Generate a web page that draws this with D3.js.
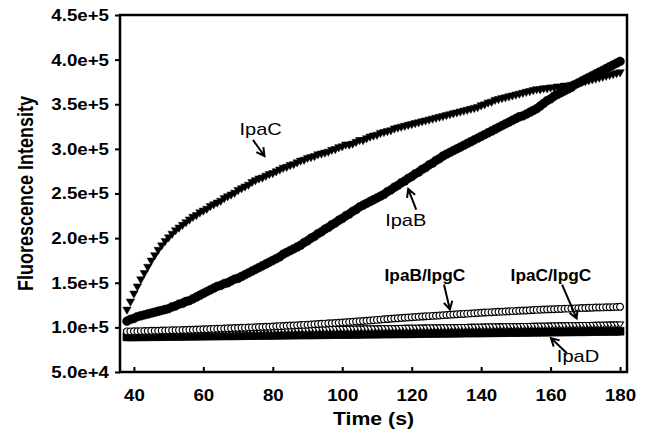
<html>
<head>
	<script src="https://d3js.org/d3.v7.min.js"></script>
	<style>
		body { margin: 0; background: #fff; }
		text { font-family: "Liberation Sans", Arial, sans-serif; fill: #000; }
	</style>
</head>
<body>
<svg width="648" height="445"></svg>
<script>
// time points (s), one reading per second
const times = [38,39,
	40,41,42,43,44,45,46,47,48,49,
	50,51,52,53,54,55,56,57,58,59,
	60,61,62,63,64,65,66,67,68,69,
	70,71,72,73,74,75,76,77,78,79,
	80,81,82,83,84,85,86,87,88,89,
	90,91,92,93,94,95,96,97,98,99,
	100,101,102,103,104,105,106,107,108,109,
	110,111,112,113,114,115,116,117,118,119,
	120,121,122,123,124,125,126,127,128,129,
	130,131,132,133,134,135,136,137,138,139,
	140,141,142,143,144,145,146,147,148,149,
	150,151,152,153,154,155,156,157,158,159,
	160,161,162,163,164,165,166,167,168,169,
	170,171,172,173,174,175,176,177,178,179,
	180];

// fluorescence, in thousands
const ipaC = [120,129,
	138,146,154,161,168,175,181,187,192,197,
	201,205,209,212,215,218,221,224,226,229,
	231,233,236,238,240,242,245,247,249,251,
	254,256,258,260,263,265,267,268,270,272,
	273,275,277,279,280,282,283,285,287,288,
	290,291,292,294,295,296,297,299,300,302,
	303,305,305,306,308,310,310,312,314,315,
	316,318,319,320,321,323,324,325,326,327,
	328,329,330,331,332,333,334,335,336,337,
	338,339,340,341,342,343,344,345,346,347,
	349,350,352,353,355,356,357,358,359,360,
	361,362,363,364,365,366,367,367,368,368,
	369,369,370,370,371,371,372,373,374,375,
	376,377,378,379,380,381,382,383,384,385,
	386];

const ipaB = [107,109,
	110,112,113,114,115,116,117,118,119,120,
	121,123,124,126,127,129,130,132,134,136,
	138,140,142,144,146,147,149,150,152,154,
	155,157,159,161,163,165,167,169,171,173,
	175,177,179,182,184,186,188,190,192,195,
	197,200,202,205,207,210,212,215,217,220,
	222,225,227,230,232,235,237,239,241,243,
	245,247,249,252,254,257,259,262,264,267,
	269,272,274,277,279,282,284,287,289,292,
	294,296,298,300,302,304,306,308,310,312,
	314,316,318,320,322,324,326,328,330,332,
	334,336,337,339,341,343,345,348,351,354,
	356,359,361,363,365,367,369,372,374,376,
	378,380,382,384,386,388,390,392,394,396,
	398];

const ipaBIpgC = [95.5,95.5,
	95.6,95.7,95.8,95.9,96.0,96.1,96.2,96.3,96.4,96.5,
	96.6,96.7,96.8,96.9,97.0,97.1,97.3,97.4,97.6,97.7,
	97.9,98.0,98.2,98.3,98.5,98.6,98.8,98.9,99.1,99.2,
	99.4,99.5,99.7,99.8,100.0,100.1,100.3,100.4,100.6,100.8,
	101.0,101.2,101.4,101.6,101.8,102.0,102.2,102.4,102.6,102.8,
	103.0,103.2,103.5,103.7,104.0,104.2,104.5,104.7,105.0,105.2,
	105.5,105.7,106.0,106.3,106.6,106.9,107.2,107.5,107.8,108.1,
	108.4,108.7,109.0,109.3,109.6,109.9,110.2,110.5,110.8,111.1,
	111.4,111.6,111.9,112.1,112.4,112.6,112.9,113.1,113.4,113.6,
	113.9,114.1,114.4,114.6,114.9,115.1,115.4,115.6,115.9,116.1,
	116.4,116.6,116.8,117.0,117.2,117.4,117.6,117.8,118.0,118.2,
	118.4,118.6,118.8,119.0,119.2,119.4,119.6,119.8,120.0,120.1,
	120.3,120.4,120.6,120.7,120.9,121.0,121.2,121.3,121.5,121.6,
	121.8,121.9,122.1,122.2,122.3,122.4,122.5,122.6,122.7,122.8,
	123.0];

const ipaCIpgC = [95.0,95.0,
	95.1,95.2,95.2,95.3,95.3,95.4,95.5,95.5,95.6,95.7,
	95.7,95.8,95.8,95.9,96.0,96.0,96.1,96.2,96.2,96.3,
	96.3,96.4,96.5,96.5,96.6,96.7,96.7,96.8,96.8,96.9,
	97.0,97.0,97.1,97.2,97.2,97.3,97.3,97.4,97.5,97.5,
	97.6,97.7,97.7,97.8,97.8,97.9,98.0,98.0,98.1,98.2,
	98.2,98.3,98.3,98.4,98.5,98.5,98.6,98.7,98.7,98.8,
	98.8,98.9,99.0,99.0,99.1,99.2,99.2,99.3,99.3,99.4,
	99.5,99.5,99.6,99.7,99.7,99.8,99.8,99.9,100.0,100.0,
	100.1,100.2,100.2,100.3,100.3,100.4,100.5,100.5,100.6,100.7,
	100.7,100.8,100.8,100.9,101.0,101.0,101.1,101.2,101.2,101.3,
	101.3,101.4,101.5,101.5,101.6,101.7,101.7,101.8,101.8,101.9,
	102.0,102.0,102.1,102.2,102.2,102.3,102.3,102.4,102.5,102.5,
	102.6,102.7,102.7,102.8,102.8,102.9,103.0,103.0,103.1,103.2,
	103.2,103.3,103.3,103.4,103.5,103.5,103.6,103.7,103.7,103.8,
	103.8];

const ipaD = [89.3,89.3,
	89.4,89.4,89.5,89.5,89.6,89.6,89.7,89.7,89.7,89.8,
	89.8,89.9,89.9,90.0,90.0,90.1,90.1,90.2,90.2,90.2,
	90.3,90.3,90.4,90.4,90.5,90.5,90.6,90.6,90.6,90.7,
	90.7,90.8,90.8,90.9,90.9,91.0,91.0,91.1,91.1,91.1,
	91.2,91.2,91.3,91.3,91.4,91.4,91.5,91.5,91.6,91.6,
	91.6,91.7,91.7,91.8,91.8,91.9,91.9,92.0,92.0,92.0,
	92.1,92.1,92.2,92.2,92.3,92.3,92.4,92.4,92.5,92.5,
	92.5,92.6,92.6,92.7,92.7,92.8,92.8,92.9,92.9,92.9,
	93.0,93.0,93.1,93.1,93.2,93.2,93.3,93.3,93.4,93.4,
	93.4,93.5,93.5,93.6,93.6,93.7,93.7,93.8,93.8,93.8,
	93.9,93.9,94.0,94.0,94.1,94.1,94.2,94.2,94.3,94.3,
	94.3,94.4,94.4,94.5,94.5,94.6,94.6,94.7,94.7,94.7,
	94.8,94.8,94.9,94.9,95.0,95.0,95.1,95.1,95.2,95.2,
	95.2,95.3,95.3,95.4,95.4,95.5,95.5,95.6,95.6,95.6,
	95.7];

const xTicks = [40,60,80,100,120,140,160,180];
const yTicks = [50,100,150,200,250,300,350,400,450];
const yTickLabels = ["5.0e+4","1.0e+5","1.5e+5","2.0e+5","2.5e+5","3.0e+5","3.5e+5","4.0e+5","4.5e+5"];

// annotation labels: text position and arrow tail -> tip, in data units
const labels = [
	{text: "IpaC", bold: false, anchor: "middle", tx: 76.5, ty: 315, from: [74.3, 310], to: [77.6, 292]},
	{text: "IpaB", bold: false, anchor: "middle", tx: 118.3, ty: 214, from: [121.3, 232], to: [119.0, 255]},
	{text: "IpaB/IpgC", bold: true, anchor: "middle", tx: 123.8, ty: 152, from: [129.3, 148], to: [131.0, 120]},
	{text: "IpaC/IpgC", bold: true, anchor: "middle", tx: 160.1, ty: 152, from: [163.3, 148], to: [167.5, 110]},
	{text: "IpaD", bold: false, anchor: "start", tx: 161.8, ty: 61, from: [164.7, 71], to: [160.1, 88]}
];

const svg = d3.select("svg");
const x = d3.scaleLinear().domain([36, 182]).range([120, 627]);
const y = d3.scaleLinear().domain([50, 450]).range([372, 15]);

// text in the original is a bit wider than Liberation Sans
function widen(sel, k) {
	sel.each(function() {
		const w = this.getComputedTextLength();
		d3.select(this).attr("textLength", w * k).attr("lengthAdjust", "spacingAndGlyphs");
	});
}

// axes
const yAxis = svg.append("g")
	.attr("transform", "translate(120,0)")
	.call(d3.axisLeft(y).tickValues(yTicks).tickFormat((d, i) => yTickLabels[i]).tickSize(5).tickPadding(6).tickSizeOuter(0));
const xAxis = svg.append("g")
	.attr("transform", "translate(0,372)")
	.call(d3.axisBottom(x).tickValues(xTicks).tickSizeInner(-5).tickSizeOuter(0).tickPadding(17));

[xAxis, yAxis].forEach(a => {
	a.select(".domain").remove();
	a.selectAll("line").attr("stroke", "#000").attr("stroke-width", 2);
	a.selectAll("text").attr("font-size", 17).attr("font-weight", "bold").attr("font-family", "Liberation Sans, Arial, sans-serif");
	widen(a.selectAll("text"), 1.1);
});

svg.append("rect")
	.attr("x", x(36)).attr("y", y(450))
	.attr("width", x(182) - x(36)).attr("height", y(50) - y(450))
	.attr("fill", "none").attr("stroke", "#000").attr("stroke-width", 2.5);

// titles
const xt = svg.append("text")
	.attr("x", (x(36) + x(182)) / 2).attr("y", 425)
	.attr("text-anchor", "middle").attr("font-size", 18).attr("font-weight", "bold")
	.text("Time (s)");
widen(xt, 1.18);

svg.append("text")
	.attr("transform", "translate(33," + (y(450) + y(50)) / 2 + ") scale(1.18,1) rotate(-90)")
	.attr("text-anchor", "middle").attr("font-size", 18).attr("font-weight", "bold")
	.text("Fluorescence Intensity");

// series
const plot = svg.append("g");
const down = "rotate(180)";

function series(vals, type, size, fill, rot, sw) {
	const sym = d3.symbol().type(type).size(size);
	plot.append("g").selectAll("path")
		.data(times.map((t, i) => [t, vals[i]]))
		.enter().append("path")
		.attr("d", sym)
		.attr("transform", d => "translate(" + x(d[0]) + "," + y(d[1]) + ")" + (rot ? " " + rot : ""))
		.attr("fill", fill)
		.attr("stroke", "#000")
		.attr("stroke-width", sw);
}

series(ipaD, d3.symbolSquare, 64, "#000", null, 0.5);
series(ipaCIpgC, d3.symbolTriangle, 20, "#fff", down, 1.1);
series(ipaBIpgC, d3.symbolCircle, 36, "#fff", null, 1.2);
series(ipaB, d3.symbolCircle, 62, "#000", null, 0.5);
series(ipaC, d3.symbolTriangle, 30, "#000", down, 0.5);

// labels with arrows
labels.forEach(l => {
	const t = svg.append("text")
		.attr("x", x(l.tx)).attr("y", y(l.ty))
		.attr("text-anchor", l.anchor)
		.attr("font-size", l.bold ? 16 : 17)
		.attr("font-weight", l.bold ? "bold" : "normal")
		.text(l.text);
	widen(t, l.bold ? 1.08 : 1.18);

	const x1 = x(l.from[0]), y1 = y(l.from[1]), x2 = x(l.to[0]), y2 = y(l.to[1]);
	const ang = Math.atan2(y2 - y1, x2 - x1);
	const h = 9, spread = 0.5;
	const p = d3.path();
	p.moveTo(x1, y1); p.lineTo(x2, y2);
	p.moveTo(x2 - h * Math.cos(ang - spread), y2 - h * Math.sin(ang - spread));
	p.lineTo(x2, y2);
	p.lineTo(x2 - h * Math.cos(ang + spread), y2 - h * Math.sin(ang + spread));
	svg.append("path").attr("d", p.toString())
		.attr("fill", "none").attr("stroke", "#000").attr("stroke-width", 2);
});
</script>
</body>
</html>
